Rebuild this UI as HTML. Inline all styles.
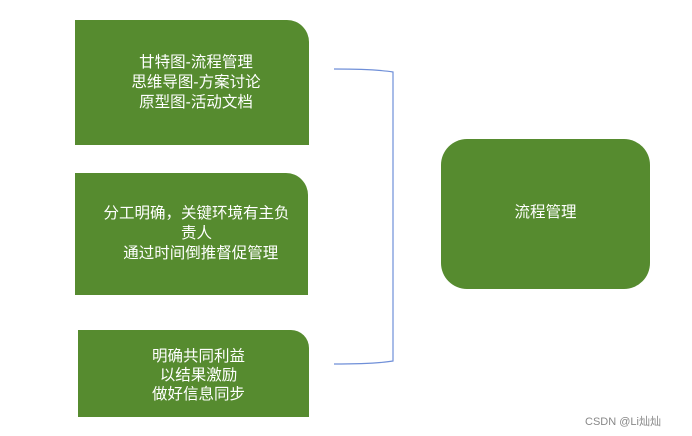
<!DOCTYPE html>
<html><head><meta charset="utf-8"><style>
body{margin:0;width:692px;height:436px;background:#fff;position:relative;overflow:hidden;font-family:"Liberation Sans","Noto Sans CJK SC",sans-serif}
.b{position:absolute;background:#568b2f;color:#fff;font-size:15.5px;line-height:20px;display:flex;align-items:center;justify-content:center;text-align:center;box-sizing:border-box}
</style></head><body>
<div class="b" style="left:75px;top:20px;width:234px;height:125px;border-top-right-radius:22px;padding-left:8px">甘特图-流程管理<br>思维导图-方案讨论<br>原型图-活动文档</div>
<div class="b" style="left:75px;top:173px;width:233px;height:122px;border-top-right-radius:22px;padding-left:10px"><div>分工明确，关键环境有主负<br>责人<br>&nbsp;&nbsp;通过时间倒推督促管理</div></div>
<div class="b" style="left:78px;top:330px;width:231px;height:87px;border-top-right-radius:18px;padding-left:10px;padding-top:4px;line-height:19px">明确共同利益<br>以结果激励<br>做好信息同步</div>
<div class="b" style="left:441px;top:139px;width:209px;height:150px;border-radius:26px;padding-bottom:2px">流程管理</div>
<svg style="position:absolute;left:0;top:0" width="692" height="436"><path d="M334 69 Q375 69 393 72 L393 361 Q375 364 334 364" fill="none" stroke="#6f8fd8" stroke-width="1.2"/></svg>
<div style="position:absolute;left:585px;top:413px;font-size:11px;color:#888">CSDN @Li灿灿</div>
</body></html>
